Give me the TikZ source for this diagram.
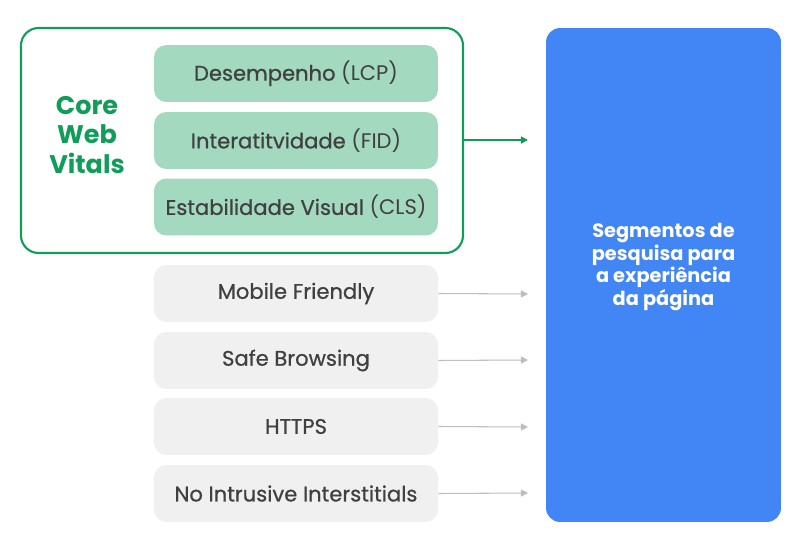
\documentclass[tikz,border=0pt]{standalone}
\usepackage{fontspec}
\setmainfont{Poppins}
\newfontfamily\medfont[FakeBold=0.7]{Poppins}
\usetikzlibrary{arrows.meta}

\definecolor{cwvgreen}{HTML}{0F9D58}
\definecolor{cwvfill}{HTML}{A3D9BF}
\definecolor{greyfill}{HTML}{F0F0F0}
\definecolor{greyline}{HTML}{BDBDBD}
\definecolor{pageblue}{HTML}{4285F4}
\definecolor{boxtext}{HTML}{404040}

\newcommand{\metric}[1]{{\normalfont #1}}

\tikzset{
  itembox/.style={rounded corners=7pt, minimum width=5.68cm, minimum height=1.14cm,
    inner sep=0pt, font=\medfont\fontsize{12}{14}\selectfont, text=boxtext},
  vitalbox/.style={itembox, fill=cwvfill},
  signalbox/.style={itembox, fill=greyfill},
  greenarrow/.style={draw=cwvgreen, line width=0.8pt, -{Triangle[length=4pt,width=4pt]}},
  greyarrow/.style={draw=greyline, line width=0.6pt, -{Triangle[length=4pt,width=4pt]}}
}

\begin{document}
\begin{tikzpicture}[x=0.02cm, y=-0.02cm]
      \useasboundingbox (0,0) rectangle (800,550);

      % outer frame of the core web vitals
      \draw[cwvgreen, line width=1.2pt, rounded corners=10pt] (21,28) rectangle (463,253);
      \coordinate (frame) at (463,140);

      \node[text=cwvgreen, font=\fontsize{14.5}{17}\selectfont\bfseries, align=center] (cwv) at (87,135)
        {Core\\Web\\Vitals};

      \node[vitalbox] (lcp) at (296,73.5) {Desempenho \metric{(LCP)}};
      \node[vitalbox] (fid) at (296,140.5) {Interatitvidade \metric{(FID)}};
      \node[vitalbox] (cls) at (296,207) {Estabilidade Visual \metric{(CLS)}};

      \node[signalbox] (mobile) at (296,293.5) {Mobile Friendly};
      \node[signalbox] (safe) at (296,360.5) {Safe Browsing};
      \node[signalbox] (https) at (296,426.5) {HTTPS};
      \node[signalbox] (intrusive) at (296,493.5) {No Intrusive Interstitials};

      % blue target box, its text sits a little above the middle
      \node[fill=pageblue, rounded corners=8pt, minimum width=4.7cm, minimum height=9.88cm] (page) at (663.5,275) {};
      \node[text=white, font=\fontsize{11}{13}\selectfont\bfseries, align=center] (pagetext) at (663.5,267)
        {Segmentos de\\pesquisa para\\a experiência\\da página};

      \coordinate (in1) at (528,140);
      \coordinate (in2) at (528,294);
      \coordinate (in3) at (528,360);
      \coordinate (in4) at (528,427);
      \coordinate (in5) at (528,493);

      \draw[greenarrow] (frame) -- (in1);
      \draw[greyarrow] (mobile.east) -- (in2);
      \draw[greyarrow] (safe.east) -- (in3);
      \draw[greyarrow] (https.east) -- (in4);
      \draw[greyarrow] (intrusive.east) -- (in5);
\end{tikzpicture}
\end{document}
